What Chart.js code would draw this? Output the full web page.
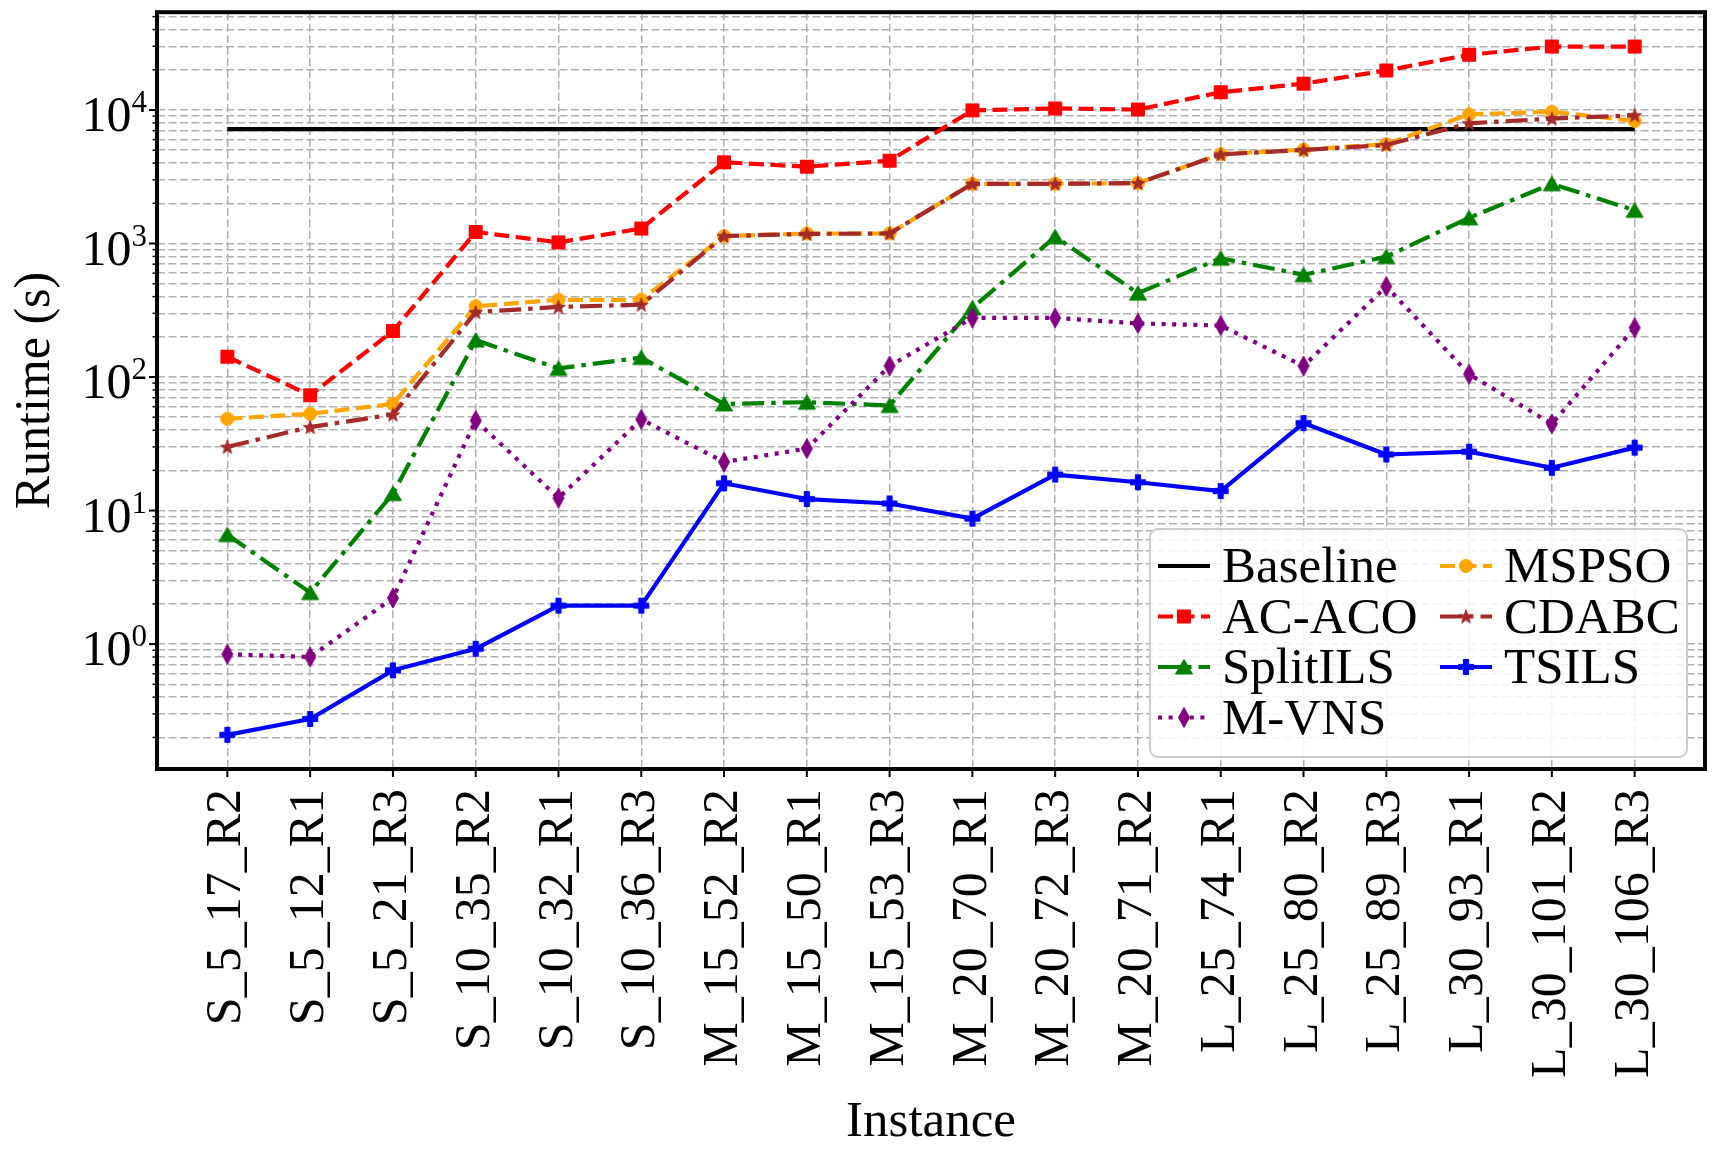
<!DOCTYPE html>
<html>
<head>
<meta charset="utf-8">
<script src="https://cdn.jsdelivr.net/npm/chart.js@4.4.1/dist/chart.umd.min.js"></script>
<style>
  html, body { margin: 0; padding: 0; background: #fff; }
  #wrap { width: 1732px; height: 1161px; }
</style>
</head>
<body>
<div id="wrap"><canvas id="runtime" width="1732" height="1161"></canvas></div>
<script>
const instances = [
    'S_5_17_R2', 'S_5_12_R1', 'S_5_21_R3', 'S_10_35_R2', 'S_10_32_R1', 'S_10_36_R3',
    'M_15_52_R2', 'M_15_50_R1', 'M_15_53_R3', 'M_20_70_R1', 'M_20_72_R3', 'M_20_71_R2',
    'L_25_74_R1', 'L_25_80_R2', 'L_25_89_R3', 'L_30_93_R1', 'L_30_101_R2', 'L_30_106_R3'
];

// runtimes in seconds
const baselineRuntime = [7200, 7200, 7200, 7200, 7200, 7200, 7200, 7200, 7200, 7200, 7200, 7200, 7200, 7200, 7200, 7200, 7200, 7200];
const acacoRuntime = [142, 73, 221, 1220, 1020, 1295, 4060, 3760, 4170, 9940, 10270, 10080, 13580, 15740, 19780, 25920, 29860, 29860];
const splitilsRuntime = [6.6, 2.43, 13.4, 189, 116, 140, 62.9, 64.8, 61.2, 329, 1123, 425, 775, 583, 798, 1557, 2800, 1772];
const mvnsRuntime = [0.84, 0.80, 2.21, 47.3, 12.4, 48.2, 23.1, 29.1, 121, 277, 277, 252, 243, 121, 477, 105, 44.6, 234];
const mspsoRuntime = [48.7, 53, 62.9, 339, 379, 379, 1136, 1189, 1189, 2800, 2800, 2832, 4675, 5040, 5550, 9270, 9700, 8275];
const cdabcRuntime = [30, 42.2, 52.4, 306, 335, 348, 1136, 1180, 1190, 2800, 2800, 2832, 4646, 5020, 5470, 7950, 8620, 9130];
const tsilsRuntime = [0.209, 0.275, 0.636, 0.922, 1.94, 1.94, 16.0, 12.2, 11.3, 8.7, 18.6, 16.3, 14.0, 45.2, 26.3, 27.6, 20.9, 29.6];

const yTickExponents = [0, 1, 2, 3, 4];

const FONT = '"Liberation Serif", "Times New Roman", serif';

function makeMarker(shape, color) {
    const c = document.createElement('canvas');
    c.width = 26; c.height = 26;
    const g = c.getContext('2d');
    g.translate(13, 13);
    g.fillStyle = color;
    g.strokeStyle = color;
    g.lineWidth = 1;
    g.lineJoin = 'miter';
    g.beginPath();
    if (shape === 'square') {
        g.rect(-6.5, -6.5, 13, 13);
    } else if (shape === 'triangle') {
        g.moveTo(0, -7.5); g.lineTo(8.5, 7); g.lineTo(-8.5, 7); g.closePath();
    } else if (shape === 'circle') {
        g.arc(0, 0, 6.5, 0, Math.PI * 2);
    } else if (shape === 'thinDiamond') {
        g.moveTo(0, -10); g.lineTo(5.5, 0); g.lineTo(0, 10); g.lineTo(-5.5, 0); g.closePath();
    } else if (shape === 'star') {
        for (let k = 0; k < 10; k++) {
            const r = k % 2 === 0 ? 7.2 : 3;
            const a = -Math.PI / 2 + k * Math.PI / 5;
            if (k === 0) g.moveTo(r * Math.cos(a), r * Math.sin(a) + 0.6);
            else g.lineTo(r * Math.cos(a), r * Math.sin(a) + 0.6);
        }
        g.closePath();
    } else if (shape === 'plus') {
        const o = 7.5, t = 2.6;
        g.moveTo(-t, -o); g.lineTo(t, -o); g.lineTo(t, -t); g.lineTo(o, -t); g.lineTo(o, t);
        g.lineTo(t, t); g.lineTo(t, o); g.lineTo(-t, o); g.lineTo(-t, t); g.lineTo(-o, t);
        g.lineTo(-o, -t); g.lineTo(-t, -t); g.closePath();
    }
    g.fill();
    g.stroke();
    return c;
}

function series(values) {
    return values.map((v, i) => ({ x: i, y: v }));
}

const DASHED = [15, 6.5];
const DASHDOT = [22, 7, 4.5, 7];
const DOTTED = [4, 6.6];

const datasets = [
    { label: 'Baseline', data: series(baselineRuntime), borderColor: '#000000', borderDash: [], pointRadius: 0, order: 6 },
    { label: 'AC-ACO', data: series(acacoRuntime), borderColor: '#ff0000', borderDash: DASHED, pointStyle: makeMarker('square', '#ff0000'), order: 5 },
    { label: 'SplitILS', data: series(splitilsRuntime), borderColor: '#008000', borderDash: DASHDOT, pointStyle: makeMarker('triangle', '#008000'), order: 4 },
    { label: 'M-VNS', data: series(mvnsRuntime), borderColor: '#800080', borderDash: DOTTED, pointStyle: makeMarker('thinDiamond', '#800080'), order: 3 },
    { label: 'MSPSO', data: series(mspsoRuntime), borderColor: '#ffa500', borderDash: DASHED, pointStyle: makeMarker('circle', '#ffa500'), order: 2 },
    { label: 'CDABC', data: series(cdabcRuntime), borderColor: '#a52a2a', borderDash: DASHDOT, pointStyle: makeMarker('star', '#a52a2a'), order: 1 },
    { label: 'TSILS', data: series(tsilsRuntime), borderColor: '#0000ff', borderDash: [], pointStyle: makeMarker('plus', '#0000ff'), order: 0 }
].map((d) => Object.assign({
    borderWidth: 4.2,
    pointRadius: 8,
    tension: 0,
    fill: false,
    borderCapStyle: 'butt',
    borderJoinStyle: 'round'
}, d));

function isMajor(v) {
    return yTickExponents.some((e) => Math.abs(Math.log10(v) - e) < 1e-9);
}

// frame, tick marks and 10^n labels, drawn over the lines like matplotlib spines
const axesDecor = {
    id: 'axesDecor',
    afterDatasetsDraw(chart) {
        const { ctx, chartArea: a, scales: { x, y } } = chart;
        ctx.save();
        ctx.strokeStyle = '#000';
        ctx.setLineDash([]);
        y.ticks.forEach((t) => {
            const py = y.getPixelForValue(t.value);
            const major = isMajor(t.value);
            ctx.lineWidth = major ? 2 : 1.5;
            ctx.beginPath();
            ctx.moveTo(a.left, py);
            ctx.lineTo(a.left - (major ? 8 : 4.5), py);
            ctx.stroke();
        });
        ctx.lineWidth = 2;
        x.ticks.forEach((t) => {
            const px = x.getPixelForValue(t.value);
            ctx.beginPath();
            ctx.moveTo(px, a.bottom);
            ctx.lineTo(px, a.bottom + 8);
            ctx.stroke();
        });
        ctx.lineWidth = 4;
        ctx.strokeRect(a.left, a.top, a.right - a.left, a.bottom - a.top);

        ctx.fillStyle = '#000';
        ctx.textAlign = 'right';
        ctx.textBaseline = 'alphabetic';
        yTickExponents.forEach((e) => {
            const py = y.getPixelForValue(Math.pow(10, e));
            const right = a.left - 10;
            ctx.font = '31px ' + FONT;
            const ew = ctx.measureText(String(e)).width;
            ctx.fillText(String(e), right, py + 2);
            ctx.font = '50px ' + FONT;
            ctx.fillText('10', right - ew, py + 21);
        });
        ctx.restore();
    }
};

// two-column legend in the lower right, column-major like matplotlib
const legendBox = {
    id: 'legendBox',
    afterDraw(chart) {
        const { ctx, chartArea: a } = chart;
        const ds = chart.data.datasets;
        const boxW = 537, boxH = 228;
        const bx = a.right - 18 - boxW;
        const by = a.bottom - 12 - boxH;
        ctx.save();
        ctx.beginPath();
        ctx.roundRect(bx, by, boxW, boxH, 8);
        ctx.fillStyle = 'rgba(255,255,255,0.85)';
        ctx.fill();
        ctx.lineWidth = 2;
        ctx.strokeStyle = '#cccccc';
        ctx.stroke();

        const columns = [[0, 1, 2, 3], [4, 5, 6]];
        const colX = [bx + 8, bx + 290];
        ctx.font = '51px ' + FONT;
        ctx.textAlign = 'left';
        ctx.textBaseline = 'alphabetic';
        columns.forEach((col, ci) => {
            col.forEach((di, ri) => {
                const d = ds[di];
                const rowY = by + 37 + ri * 50.5;
                const x1 = colX[ci], x2 = colX[ci] + 52;
                ctx.setLineDash(d.borderDash || []);
                ctx.lineWidth = 4.2;
                ctx.lineCap = 'butt';
                ctx.strokeStyle = d.borderColor;
                ctx.beginPath();
                ctx.moveTo(x1, rowY);
                ctx.lineTo(x2, rowY);
                ctx.stroke();
                ctx.setLineDash([]);
                if (d.pointRadius > 0 && d.pointStyle instanceof HTMLCanvasElement) {
                    const m = d.pointStyle;
                    ctx.drawImage(m, (x1 + x2) / 2 - m.width / 2, rowY - m.height / 2);
                }
                ctx.fillStyle = '#000';
                ctx.fillText(d.label, x2 + 12, rowY + 16);
            });
        });
        ctx.restore();
    }
};

const gridStyle = {
    color: '#b0b0b0',
    lineWidth: 1.5,
    drawTicks: false
};

new Chart(document.getElementById('runtime'), {
    type: 'line',
    data: { datasets: datasets },
    plugins: [axesDecor, legendBox],
    options: {
        responsive: false,
        animation: false,
        layout: { padding: { left: 0, right: 27, top: 6, bottom: 0 } },
        plugins: {
            legend: { display: false },
            tooltip: { enabled: false }
        },
        scales: {
            x: {
                type: 'linear',
                min: -0.85,
                max: 17.85,
                afterBuildTicks: (scale) => {
                    scale.ticks = instances.map((_, i) => ({ value: i }));
                },
                afterFit: (scale) => { scale.height = 392; },
                grid: gridStyle,
                border: { display: false, dash: [8, 3.5] },
                ticks: {
                    autoSkip: false,
                    minRotation: 90,
                    maxRotation: 90,
                    padding: 20,
                    color: '#000',
                    font: { family: FONT, size: 50 },
                    callback: (value) => instances[value] ?? ''
                },
                title: {
                    display: true,
                    text: 'Instance',
                    color: '#000',
                    font: { family: FONT, size: 51 },
                    padding: { top: 8, bottom: 8 }
                }
            },
            y: {
                type: 'logarithmic',
                min: 0.116,
                max: 54000,
                afterBuildTicks: (scale) => {
                    const ticks = [];
                    for (let e = -1; e <= 4; e++) {
                        for (let m = 1; m <= 9; m++) {
                            const v = m * Math.pow(10, e);
                            if (v >= scale.min && v <= scale.max) ticks.push({ value: v, major: m === 1 });
                        }
                    }
                    scale.ticks = ticks;
                },
                afterFit: (scale) => { scale.width = 157; },
                grid: gridStyle,
                border: { display: false, dash: [8, 3.5] },
                ticks: { display: false },
                title: {
                    display: true,
                    text: 'Runtime (s)',
                    color: '#000',
                    font: { family: FONT, size: 50 },
                    padding: { top: 6, bottom: 6 }
                }
            }
        }
    }
});
</script>
</body>
</html>
